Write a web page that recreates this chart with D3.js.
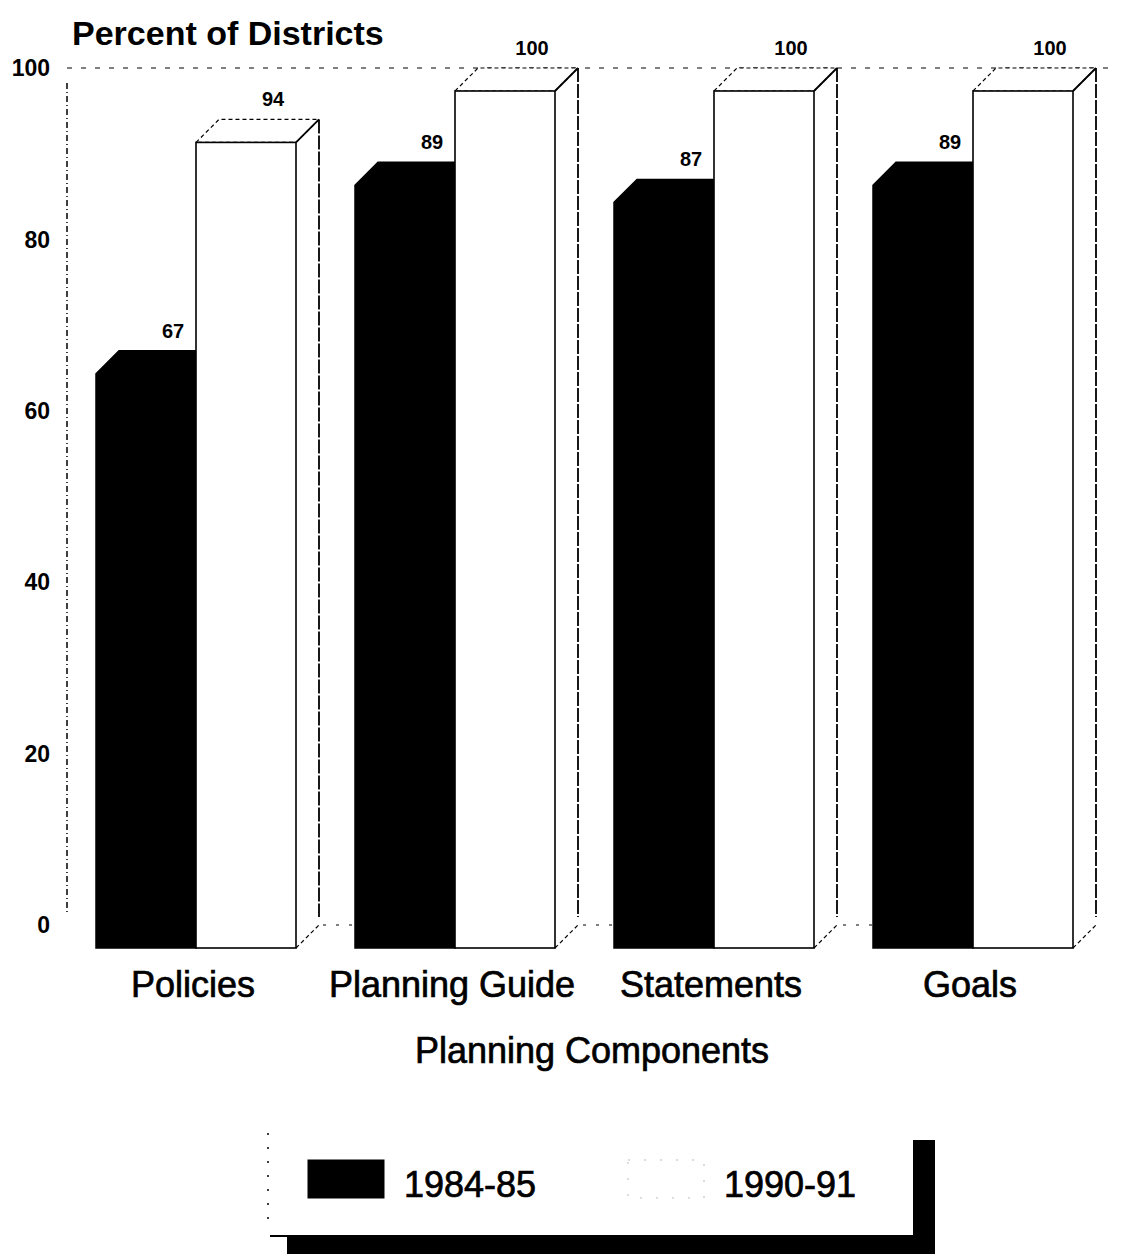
<!DOCTYPE html>
<html>
<head>
<meta charset="utf-8">
<script src="https://cdn.jsdelivr.net/npm/d3@7"></script>
<style>
  body { margin: 0; background: #fff; }
  svg text { font-family: "Liberation Sans", Arial, sans-serif; fill: #000; }
</style>
</head>
<body>
<div id="viz"></div>
<script>
const width = 1121;
const height = 1254;
const depth = 23; // 3D offset of the back plane

const categories = ['Policies', 'Planning Guide', 'Statements', 'Goals'];
const series = ['1984-85', '1990-91'];
const values8485 = [67, 89, 87, 89];
const values9091 = [94, 100, 100, 100];
const yTicks = [0, 20, 40, 60, 80, 100];
const seriesColors = ['#000000', '#ffffff'];

// rows for drawing
const data = categories.map((c, i) => ({
  category: c,
  values: [
    { key: series[0], value: values8485[i] },
    { key: series[1], value: values9091[i] }
  ]
}));

const svg = d3.select('#viz')
  .append('svg')
    .attr('width', width)
    .attr('height', height);

// front plane scales
const xScale = d3.scaleBand()
  .domain(categories)
  .range([96, 1073])
  .paddingInner(59 / 259)
  .paddingOuter(0);

const xSub = d3.scaleBand()
  .domain(series)
  .range([0, xScale.bandwidth()]);

const yScale = d3.scaleLinear()
  .domain([0, 100])
  .range([948, 91]);

const colour = d3.scaleOrdinal().domain(series).range(seriesColors);

// back wall: axis line, top and floor lines
const back = svg.append('g').attr('class', 'back-wall');
const bx0 = 67;
const bx1 = xScale.range()[1] + depth + 20;
back.append('line')
  .attr('x1', bx0).attr('x2', bx0)
  .attr('y1', yScale(100) - depth + 15).attr('y2', yScale(0) - depth - 10)
  .attr('stroke', '#000').attr('stroke-width', 1.5)
  .attr('stroke-dasharray', '6,3,1,3');
back.append('line')
  .attr('x1', bx0).attr('x2', bx1)
  .attr('y1', yScale(100) - depth).attr('y2', yScale(100) - depth)
  .attr('stroke', '#000').attr('stroke-width', 1.2)
  .attr('stroke-dasharray', '5,9');
back.append('line')
  .attr('x1', bx0 + 230).attr('x2', bx1 - 20)
  .attr('y1', yScale(0) - depth).attr('y2', yScale(0) - depth)
  .attr('stroke', '#000').attr('stroke-width', 1.2)
  .attr('stroke-dasharray', '3,10');

// y tick labels on the back wall
svg.append('g')
  .attr('class', 'y-ticks')
  .selectAll('text')
  .data(yTicks)
  .join('text')
    .attr('x', 50)
    .attr('y', d => yScale(d) - depth)
    .attr('dy', '0.36em')
    .attr('text-anchor', 'end')
    .style('font-size', '23px')
    .style('font-weight', 'bold')
    .text(d => d);

// bars
const groups = svg.append('g')
  .attr('class', 'bars')
  .selectAll('g')
  .data(data)
  .join('g')
    .attr('transform', d => `translate(${xScale(d.category)},0)`);

groups.each(function(d) {
  const g = d3.select(this);
  d.values.forEach(v => {
    const x0 = xSub(v.key);
    const x1 = x0 + xSub.bandwidth();
    const yt = yScale(v.value);
    const yb = yScale(0);
    const fill = colour(v.key);
    if (v.key === series[0]) {
      // dark bar: front face + top face, all black
      g.append('path')
        .attr('d', `M${x0},${yb} L${x0},${yt} L${x0 + depth},${yt - depth} L${x1 + depth},${yt - depth} L${x1},${yt} L${x1},${yb} Z`)
        .attr('fill', fill)
        .attr('stroke', '#000')
        .attr('stroke-width', 1.5);
    } else {
      // side face
      g.append('path')
        .attr('d', `M${x1},${yt} L${x1 + depth},${yt - depth} L${x1 + depth},${yb - depth} L${x1},${yb} Z`)
        .attr('fill', fill)
        .attr('stroke', 'none');
      g.append('line')
        .attr('x1', x1 + depth).attr('x2', x1 + depth)
        .attr('y1', yt - depth).attr('y2', yb - depth - 8)
        .attr('stroke', '#000').attr('stroke-width', 1.8)
        .attr('stroke-dasharray', '14,2');
      g.append('line')
        .attr('x1', x1).attr('x2', x1 + depth)
        .attr('y1', yb).attr('y2', yb - depth)
        .attr('stroke', '#000').attr('stroke-width', 1.2)
        .attr('stroke-dasharray', '4,3');
      // top face
      g.append('path')
        .attr('d', `M${x0},${yt} L${x0 + depth},${yt - depth} L${x1 + depth},${yt - depth} L${x1},${yt} Z`)
        .attr('fill', fill)
        .attr('stroke', '#000')
        .attr('stroke-width', 1.2)
        .attr('stroke-dasharray', '4,3');
      g.append('line')
        .attr('x1', x1).attr('x2', x1 + depth)
        .attr('y1', yt).attr('y2', yt - depth)
        .attr('stroke', '#000').attr('stroke-width', 1.8);
      // front face
      g.append('rect')
        .attr('x', x0)
        .attr('y', yt)
        .attr('width', x1 - x0)
        .attr('height', yb - yt)
        .attr('fill', fill)
        .attr('stroke', '#000')
        .attr('stroke-width', 1.6);
    }
    // value label above back edge
    g.append('text')
      .attr('x', x1 + depth - 46)
      .attr('y', yt - depth - 13)
      .attr('text-anchor', 'middle')
      .style('font-size', '20px')
      .style('font-weight', 'bold')
      .text(v.value);
  });
});

// category labels
svg.append('g')
  .attr('class', 'x-labels')
  .selectAll('text')
  .data(categories)
  .join('text')
    .attr('x', d => xScale(d) + xScale.bandwidth() / 2 - 3)
    .attr('y', 997)
    .attr('text-anchor', 'middle')
    .style('font-size', '36px')
    .attr('stroke', '#000')
    .attr('stroke-width', 0.7)
    .text(d => d);

// axis titles
svg.append('text')
  .attr('x', 592)
  .attr('y', 1063)
  .attr('text-anchor', 'middle')
  .style('font-size', '36px')
  .attr('stroke', '#000')
  .attr('stroke-width', 0.7)
  .text('Planning Components');

svg.append('text')
  .attr('x', 72)
  .attr('y', 45)
  .style('font-size', '34px')
  .style('font-weight', 'bold')
  .text('Percent of Districts');

// legend box with drop shadow
const legend = svg.append('g').attr('class', 'legend');
legend.append('rect')
  .attr('x', 287).attr('y', 1140).attr('width', 648).attr('height', 120)
  .attr('fill', '#000');
legend.append('rect')
  .attr('x', 268).attr('y', 1130).attr('width', 645).attr('height', 105)
  .attr('fill', '#fff');
legend.append('line')
  .attr('x1', 268).attr('x2', 268).attr('y1', 1133).attr('y2', 1222)
  .attr('stroke', '#000').attr('stroke-width', 1.5)
  .attr('stroke-dasharray', '2,12');
legend.append('line')
  .attr('x1', 270).attr('x2', 290).attr('y1', 1236).attr('y2', 1236)
  .attr('stroke', '#000').attr('stroke-width', 2);

const legendItems = legend.selectAll('g.item')
  .data(series)
  .join('g')
    .attr('class', 'item')
    .attr('transform', (d, i) => `translate(${308 + i * 320},1160)`);
legendItems.append('rect')
  .attr('width', 76).attr('height', 38)
  .attr('fill', d => colour(d))
  .attr('stroke', (d, i) => i === 0 ? '#000' : '#bbb')
  .attr('stroke-width', 1)
  .attr('stroke-dasharray', (d, i) => i === 0 ? null : '2,14');
legendItems.append('text')
  .attr('x', 96)
  .attr('y', 37)
  .style('font-size', '36px')
  .attr('stroke', '#000')
  .attr('stroke-width', 0.7)
  .text(d => d);
</script>
</body>
</html>
